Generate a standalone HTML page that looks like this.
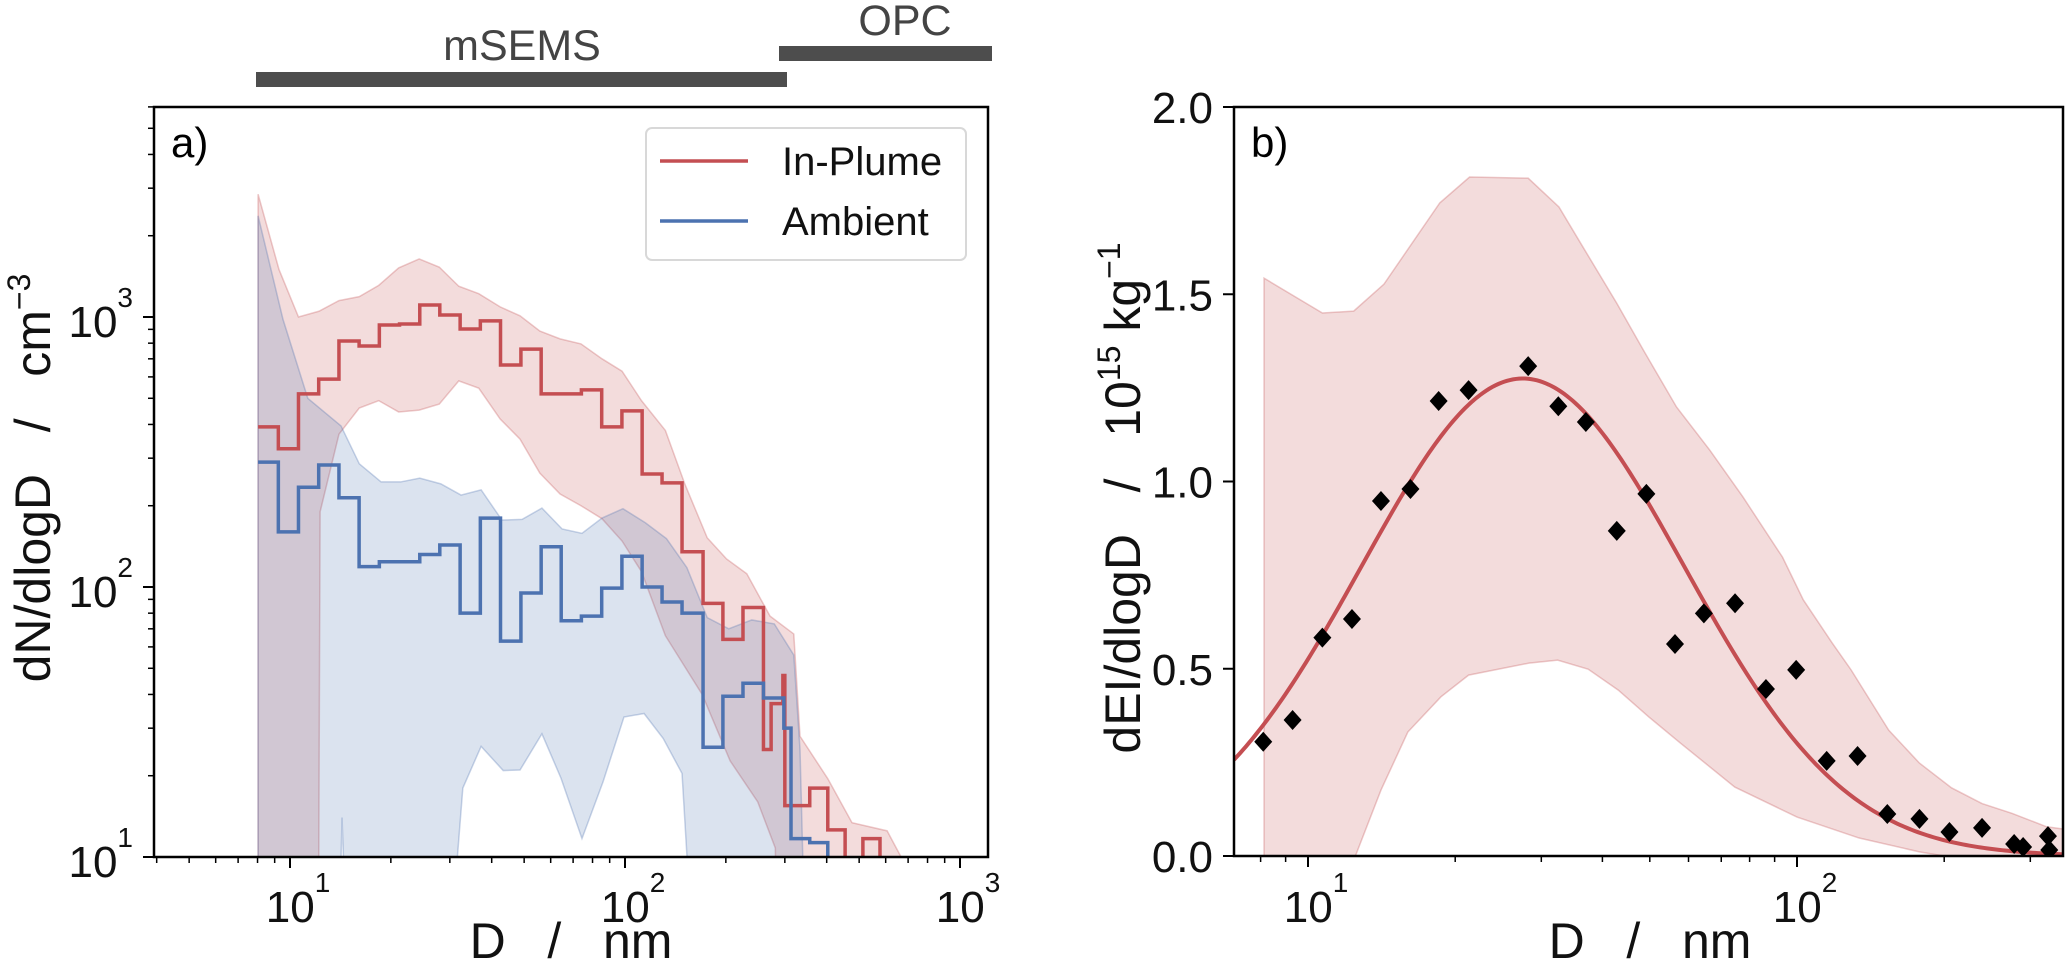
<!DOCTYPE html>
<html><head><meta charset="utf-8"><style>
html,body{margin:0;padding:0;background:#fff;width:2067px;height:980px;overflow:hidden;}
svg{display:block;font-family:"Liberation Sans",Arial,sans-serif;}
</style></head><body>
<svg id="chart" width="2067" height="980" viewBox="0 0 2067 980" xmlns="http://www.w3.org/2000/svg">
<defs>
<clipPath id="clipA"><rect x="154" y="107" width="834" height="750"/></clipPath>
<clipPath id="clipB"><rect x="1234" y="107" width="829" height="749"/></clipPath>
</defs>
<g>
<rect x="256" y="72" width="531" height="15" fill="#4d4d4d"/>
<text x="522" y="60" font-size="43" fill="#444" text-anchor="middle">mSEMS</text>
<rect x="779" y="46" width="213" height="15" fill="#4d4d4d"/>
<text x="905" y="35" font-size="43" fill="#444" text-anchor="middle">OPC</text>
</g>
<g id="panelA"></g>
<g id="panelB"></g>
</svg>
<script>
// ---------- Panel a data ----------
const redEdges = [8.03,9.23,10.6,12.18,14.0,16.08,18.48,21.23,24.4,28.0,32.2,37.0,42.5,48.9,56.2,64.5,74.1,85.2,97.9,112.5,129,148,171,196,225,259,273,296,300,356,403,454,513,577];
const redVals = [392,325,519,589,815,781,934,942,1108,1017,903,967,664,760,519,519,537,392,449,262,243,135,87,64,84,25,37,47,15.5,18,12.6,9,11.7];
const blueEdges = [8.03,9.23,10.6,12.18,14.0,16.08,18.48,21.23,24.4,28.0,32.2,37.0,42.5,48.9,56.2,64.5,74.1,85.2,97.9,112.5,129,148,171,196,225,259,298,313,356,403];
const blueVals = [290,160,234,283,214,119,124,124,132,143,80,180,63,95,141,75,78,99,130,100,88,80,25.5,39.4,44,38.8,30,11.7,11.3];
const redUpperD = [8.03,9.27,10.6,12.2,14.0,16.1,18.4,21.1,24.3,27.9,31.9,36.6,42.4,48.6,55.7,64.0,73.9,85.4,98,112,132,151,176,201,231,271,319,333,403,476,606,667,700];
const redUpperV = [2850,1500,1000,1050,1150,1190,1310,1520,1640,1530,1300,1220,1090,1010,887,830,795,700,630,490,380,240,152,127,112,78,67,28,19.5,13.4,12.5,10,1];
const redLowerD = [8.03,12.1,12.3,14.0,16.1,18.4,21.1,24.3,27.9,31.9,36.6,42.4,48.6,55.7,64.0,73.9,85.4,98,112,132,170,206,249,281,290,700];
const redLowerV = [1,1,190,368,460,490,445,452,476,580,545,419,353,264,221,200,179,148,114,66,40,22.7,16,10.8,1,1];
const blueUpperD = [8.03,9.53,11.3,14.2,16.1,18.7,21.4,24.4,28.2,32.4,37.2,42.9,49.3,56.5,64.9,74.4,85.4,98.6,115,133,153,176,204,239,279,319,333,356];
const blueUpperV = [2370,980,500,395,286,245,245,253,241,219,229,177,178,196,164,158,180,195,173,151,118,77,70,75.5,73,56,25,1];
const blueLowerD = [8.03,13.6,14.3,15.4,27.3,32.8,37.2,43.3,48.6,56.5,64.4,74.4,86,99.3,114,130,148,171,356];
const blueLowerV = [1,1,14,1,1,18,25.7,20.9,21,28.6,19.6,11.7,19,33,34,27.5,20.4,1,1];
const aXTicks = [10,100,1000];
const aXTickExp = ["1","2","3"];
const aYTicks = [10,100,1000];
const aYTickExp = ["1","2","3"];

// ---------- Panel b data ----------
const ptD = [8.1,9.3,10.7,12.3,14.1,16.2,18.5,21.3,28.2,32.5,37,42.8,49.2,56.3,64.5,74.7,86.4,99.6,115,133,153,178,205,239,278,290,326,328];
const ptV = [0.305,0.363,0.583,0.633,0.948,0.98,1.215,1.244,1.308,1.201,1.159,0.868,0.967,0.566,0.648,0.675,0.446,0.497,0.254,0.267,0.112,0.099,0.064,0.075,0.032,0.024,0.053,0.016];
const bandUpperD = [8.13,10.7,12.4,14.3,18.6,21.4,28.2,32.6,36.5,42.8,48.5,56.7,66.3,77.5,93.4,103,118,129,154,178,207,239,275,324,360];
const bandUpperV = [1.543,1.45,1.455,1.527,1.744,1.813,1.81,1.733,1.626,1.476,1.351,1.199,1.084,0.959,0.798,0.684,0.569,0.497,0.336,0.248,0.182,0.14,0.114,0.078,0.07];
const bandLowerD = [8.13,12.5,14.1,16,18.7,21.3,28.3,32.4,37.4,43.1,49.8,57.7,74.6,100,134,178,200,360];
const bandLowerV = [0,0,0.176,0.331,0.425,0.483,0.515,0.523,0.499,0.443,0.371,0.302,0.184,0.104,0.048,0.011,0,0];
const fitPeak = 1.275, fitMode = 27.5, fitSigma = 0.33;
const bYTicks = [0,0.5,1.0,1.5,2.0];
const bYTickLabels = ["0.0","0.5","1.0","1.5","2.0"];
const bXTicks = [10,100];
const bXTickExp = ["1","2"];

const RED="#c44e52", BLUE="#4c72b0";
const NS="http://www.w3.org/2000/svg";
const SP='\u00a0\u00a0\u00a0';
function mk(tag, attrs, parent){const e=document.createElementNS(NS,tag);for(const k in attrs)e.setAttribute(k,attrs[k]);parent.appendChild(e);return e;}

const A={x0:154,x1:988,y0:107,y1:857};
function ax(D){return 290+335*(Math.log10(D)-1);}
function ay(v){return 857-270*(Math.log10(Math.max(v,0.5))-1);}
const B={x0:1234,x1:2063,y0:107,y1:856};
function bx(D){return 1308+489*(Math.log10(D)-1);}
function by(v){return 856-374.5*v;}

const gA=document.getElementById('panelA');
const gB=document.getElementById('panelB');

function stepPath(edges, vals){
  let d='M'+ax(edges[0])+','+ay(vals[0]);
  for(let i=0;i<vals.length;i++){
    d+=' L'+ax(edges[i])+','+ay(vals[i])+' L'+ax(edges[i+1])+','+ay(vals[i]);
  }
  d+=' L'+ax(edges[edges.length-1])+','+ay(0.5);
  return d;
}
function bandPath(uD,uV,lD,lV,fx,fy){
  let pts=[];
  for(let i=0;i<uD.length;i++)pts.push(fx(uD[i])+','+fy(uV[i]));
  for(let i=lD.length-1;i>=0;i--)pts.push(fx(lD[i])+','+fy(lV[i]));
  return 'M'+pts.join(' L')+' Z';
}

// ---- Panel A ----
const clipA=mk('g',{'clip-path':'url(#clipA)'},gA);
const bandR=mk('path',{d:bandPath(redUpperD,redUpperV,redLowerD,redLowerV,ax,ay),fill:RED,'fill-opacity':0.2,stroke:RED,'stroke-opacity':0.3,'stroke-width':1.5},clipA);


const bandBl=mk('path',{d:bandPath(blueUpperD,blueUpperV,blueLowerD,blueLowerV,ax,ay),fill:BLUE,'fill-opacity':0.2,stroke:BLUE,'stroke-opacity':0.3,'stroke-width':1.5},clipA);


const lineR=mk('path',{d:stepPath(redEdges,redVals),fill:'none',stroke:RED,'stroke-width':3.5},clipA);


const lineB=mk('path',{d:stepPath(blueEdges,blueVals),fill:'none',stroke:BLUE,'stroke-width':3.5},clipA);



const frA=mk('rect',{x:A.x0,y:A.y0,width:A.x1-A.x0,height:A.y1-A.y0,fill:'none',stroke:'#000','stroke-width':2.5},gA);



for(let dec=1;dec<=1000;dec*=10){
  for(let m=1;m<=9;m++){
    const D=dec*m; const x=ax(D);
    if(x<A.x0-0.5||x>A.x1+0.5)continue;
    const major=(m===1);
    const t=mk('line',{x1:x,x2:x,y1:A.y1,y2:A.y1+(major?11:6),stroke:'#000','stroke-width':major?2:1.5},gA);
    
    
  }
}
aXTicks.forEach((D,i)=>{
  const t=mk('text',{x:ax(D)+8,y:922,'font-size':44,'text-anchor':'middle',fill:'#111'},gA);
  
  
  t.textContent='10';
  const s=mk('tspan',{dy:-30,'font-size':28},t);s.textContent=aXTickExp[i];
});
for(let dec=10;dec<=1000;dec*=10){
  for(let m=1;m<=9;m++){
    const v=dec*m; const y=ay(v);
    if(y<A.y0-0.5)continue;
    const major=(m===1);
    const t=mk('line',{x1:A.x0,x2:A.x0-(major?11:6),y1:y,y2:y,stroke:'#000','stroke-width':major?2:1.5},gA);
    
    
  }
}
aYTicks.forEach((v,i)=>{
  const t=mk('text',{x:133,y:ay(v)+20,'font-size':44,'text-anchor':'end',fill:'#111'},gA);
  
  
  t.textContent='10';
  const s=mk('tspan',{dy:-30,'font-size':28},t);s.textContent=aYTickExp[i];
});

let t=mk('text',{x:571,y:958,'font-size':50,'text-anchor':'middle',fill:'#111'},gA);


t.textContent='D'+SP+'/'+SP+'nm';
t=mk('text',{x:0,y:0,'font-size':50,'text-anchor':'middle',fill:'#111',transform:'translate(50,478) rotate(-90)'},gA);


t.textContent='dN/dlogD'+SP+'/'+SP+'cm';
let s=mk('tspan',{dy:-20,'font-size':32},t);s.textContent='\u22123';
t=mk('text',{x:171,y:157,'font-size':42,fill:'#000'},gA);


t.textContent='a)';
const lg=mk('g',{},gA);


mk('rect',{x:646,y:128,width:320,height:132,rx:6,fill:'#fff','fill-opacity':0.85,stroke:'#d8d8d8','stroke-width':2},lg);
let l=mk('line',{x1:660,x2:748,y1:161,y2:161,stroke:RED,'stroke-width':3.5},lg);


t=mk('text',{x:782,y:175,'font-size':40,fill:'#111'},lg);


t.textContent='In-Plume';
l=mk('line',{x1:660,x2:748,y1:221,y2:221,stroke:BLUE,'stroke-width':3.5},lg);


t=mk('text',{x:782,y:235,'font-size':40,fill:'#111'},lg);


t.textContent='Ambient';

// ---- Panel B ----
const clipB=mk('g',{'clip-path':'url(#clipB)'},gB);
const band=mk('path',{d:bandPath(bandUpperD,bandUpperV,bandLowerD,bandLowerV,bx,by),fill:RED,'fill-opacity':0.2,stroke:RED,'stroke-opacity':0.3,'stroke-width':1.5},clipB);


let pts=[];
for(let x=B.x0;x<=B.x1;x+=3){
  const D=Math.pow(10,1+(x-1308)/489);
  const z=Math.log10(D/fitMode)/fitSigma;
  pts.push(x+','+by(fitPeak*Math.exp(-0.5*z*z)));
}
const fit=mk('path',{d:'M'+pts.join(' L'),fill:'none',stroke:RED,'stroke-width':4},clipB);


ptD.forEach((D,i)=>{
  const x=bx(D), y=by(ptV[i]);
  const p=mk('path',{d:`M${x},${y-10} L${x+9},${y} L${x},${y+10} L${x-9},${y} Z`,fill:'#000'},clipB);
  
  
});
const frB=mk('rect',{x:B.x0,y:B.y0,width:B.x1-B.x0,height:B.y1-B.y0,fill:'none',stroke:'#000','stroke-width':2.5},gB);


for(let dec=1;dec<=100;dec*=10){
  for(let m=1;m<=9;m++){
    const D=dec*m; const x=bx(D);
    if(x<B.x0-0.5||x>B.x1+0.5)continue;
    const major=(m===1);
    const tk=mk('line',{x1:x,x2:x,y1:B.y1,y2:B.y1+(major?11:6),stroke:'#000','stroke-width':major?2:1.5},gB);
    
    
  }
}
bXTicks.forEach((D,i)=>{
  const tt=mk('text',{x:bx(D)+8,y:922,'font-size':44,'text-anchor':'middle',fill:'#111'},gB);
  
  
  tt.textContent='10';
  const ss=mk('tspan',{dy:-30,'font-size':28},tt);ss.textContent=bXTickExp[i];
});
bYTicks.forEach((v,i)=>{
  const y=by(v);
  const tk=mk('line',{x1:B.x0,x2:B.x0-11,y1:y,y2:y,stroke:'#000','stroke-width':2},gB);
  
  
  const tt=mk('text',{x:1213,y:y+16,'font-size':44,'text-anchor':'end',fill:'#111'},gB);
  
  
  tt.textContent=bYTickLabels[i];
});
t=mk('text',{x:1650,y:958,'font-size':50,'text-anchor':'middle',fill:'#111'},gB);


t.textContent='D'+SP+'/'+SP+'nm';
t=mk('text',{x:0,y:0,'font-size':50,'text-anchor':'middle',fill:'#111',transform:'translate(1140,498) rotate(-90)'},gB);


t.textContent='dEI/dlogD'+SP+'/'+SP+'10';
s=mk('tspan',{dy:-20,'font-size':32},t);s.textContent='15';
s=mk('tspan',{dy:20},t);s.textContent='\u00a0kg';
s=mk('tspan',{dy:-20,'font-size':32},t);s.textContent='\u22121';
t=mk('text',{x:1251,y:157,'font-size':42,fill:'#000'},gB);


t.textContent='b)';
</script>
</body></html>
